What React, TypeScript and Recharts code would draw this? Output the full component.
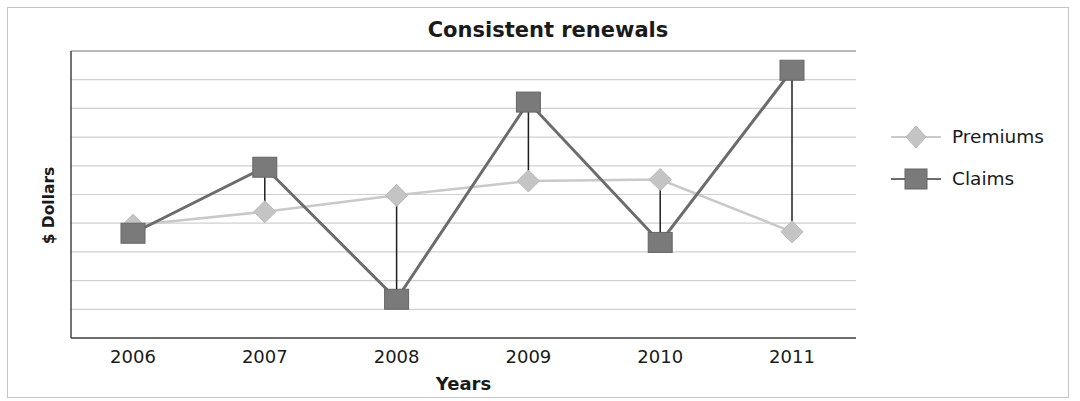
import React from 'react';
import { LineChart, Line, XAxis, YAxis, CartesianGrid, ErrorBar, ReferenceLine } from 'recharts';

const years = ['2006', '2007', '2008', '2009', '2010', '2011'];
const premiums = [3.93, 4.4, 4.97, 5.47, 5.52, 3.7];
const claims = [3.65, 5.95, 1.35, 8.22, 3.33, 9.33];
const yTicks = [0, 1, 2, 3, 4, 5, 6, 7, 8, 9, 10];
const gridValues = [1, 2, 3, 4, 5, 6, 7, 8, 9];
const seriesNames = ['Premiums', 'Claims'];
const titleText = 'Consistent renewals';
const xTitle = 'Years';
const yTitle = '$ Dollars';

const data = years.map((year, i) => ({
  year,
  premiums: premiums[i],
  claims: claims[i],
  drop: claims[i] >= premiums[i] ? [0, claims[i] - premiums[i]] : [premiums[i] - claims[i], 0],
}));

const FONT = '"DejaVu Sans", "Liberation Sans", Arial, sans-serif';
const PREM_LINE = '#c9c9c9';
const PREM_FILL = '#c4c4c4';
const CLAIM_LINE = '#6c6c6c';
const CLAIM_FILL = '#7a7a7a';

const Diamond = (p: any) => {
  const { cx, cy } = p;
  if (cx == null || cy == null) return <g key={`pd-${p.index}`} />;
  const h = 11;
  return (
    <polygon
      key={`pd-${p.index}`}
      points={`${cx},${cy - h} ${cx + h},${cy} ${cx},${cy + h} ${cx - h},${cy}`}
      fill={PREM_FILL}
      stroke="#b8b8b8"
      strokeWidth={1}
    />
  );
};

const Square = (p: any) => {
  const { cx, cy } = p;
  if (cx == null || cy == null) return <g key={`cs-${p.index}`} />;
  return (
    <rect
      key={`cs-${p.index}`}
      x={cx - 12}
      y={cy - 10}
      width={24}
      height={20}
      fill={CLAIM_FILL}
      stroke="#666666"
      strokeWidth={1}
    />
  );
};

const YLabel = (props: any) => {
  const vb = props.viewBox || { x: 11, y: 51, width: 60, height: 287 };
  const x = vb.x + 37.5;
  const y = vb.y + vb.height / 2 + 11;
  return (
    <text
      x={x}
      y={y}
      transform={`rotate(-90, ${x}, ${y})`}
      textAnchor="middle"
      dominantBaseline="central"
      fontFamily={FONT}
      fontWeight="bold"
      fontSize={15.5}
      fill="#1a1a1a"
    >
      {yTitle}
    </text>
  );
};

const XLabel = (props: any) => {
  const vb = props.viewBox || { x: 71, y: 338, width: 785, height: 60 };
  return (
    <text
      x={vb.x + vb.width / 2}
      y={vb.y + 45}
      textAnchor="middle"
      dominantBaseline="central"
      fontFamily={FONT}
      fontWeight="bold"
      fontSize={18}
      fill="#1a1a1a"
    >
      {xTitle}
    </text>
  );
};

const LegendIcon = ({ kind }: { kind: number }) => (
  <svg width={50} height={24} style={{ display: 'block' }}>
    <line x1={0} y1={12} x2={50} y2={12} stroke={kind === 0 ? PREM_LINE : CLAIM_LINE} strokeWidth={2} />
    {kind === 0 ? (
      <polygon points="25,1 35,12 25,23 15,12" fill={PREM_FILL} stroke="#b8b8b8" />
    ) : (
      <rect x={14} y={2} width={22} height={20} fill={CLAIM_FILL} stroke="#666" />
    )}
  </svg>
);

export default function App() {
  return (
    <div style={{ position: 'relative', width: 1080, height: 401, background: '#fff', fontFamily: FONT, overflow: 'hidden' }}>
      <style>{'body{margin:0;overflow:hidden;background:#fff}'}</style>
      <div
        style={{
          position: 'absolute',
          left: 7,
          top: 7,
          width: 1062,
          height: 391,
          border: '1px solid #c4c4c4',
          boxSizing: 'border-box',
        }}
      />
      <div
        style={{
          position: 'absolute',
          left: 348,
          top: 20,
          width: 400,
          textAlign: 'center',
          fontSize: 21,
          lineHeight: '21px',
          fontWeight: 'bold',
          color: '#1a1a1a',
          whiteSpace: 'nowrap',
        }}
      >
        {titleText}
      </div>
      <div style={{ position: 'absolute', left: 0, top: 0 }}>
        <LineChart width={1080} height={401} data={data} margin={{ top: 51, right: 224, bottom: 3, left: 11 }}>
          <CartesianGrid vertical={false} stroke="#d0d0d0" strokeWidth={1.2} />
          <XAxis
            dataKey="year"
            scale="point"
            padding={{ left: 62, right: 64 }}
            height={60}
            tickLine={false}
            tickMargin={6}
            axisLine={{ stroke: '#444', strokeWidth: 1.5 }}
            tick={{ fontFamily: FONT, fontSize: 18, fill: '#1a1a1a' }}
            label={<XLabel />}
          />
          <YAxis
            domain={[0, 10]}
            ticks={yTicks}
            allowDataOverflow
            tick={false}
            tickLine={false}
            width={60}
            axisLine={{ stroke: '#444', strokeWidth: 1.5 }}
            label={<YLabel />}
          />
          <YAxis
            yAxisId="r"
            orientation="right"
            domain={[0, 10]}
            ticks={yTicks}
            tick={false}
            tickLine={false}
            width={0}
            axisLine={{ stroke: '#555', strokeWidth: 1.5 }}
          />
          {gridValues.map((v) => (
            <ReferenceLine key={`g-${v}`} y={v} stroke="#d0d0d0" strokeWidth={1.2} />
          ))}
          <ReferenceLine y={10} stroke="#8c8c8c" strokeWidth={1.2} />
          <Line
            dataKey="premiums"
            name={seriesNames[0]}
            stroke={PREM_LINE}
            strokeWidth={2.5}
            dot={Diamond}
            activeDot={false}
            isAnimationActive={false}
          >
            <ErrorBar dataKey="drop" direction="y" width={0} stroke="#1e1e1e" strokeWidth={1.5} isAnimationActive={false} />
          </Line>
          <Line
            dataKey="claims"
            name={seriesNames[1]}
            stroke={CLAIM_LINE}
            strokeWidth={3}
            dot={Square}
            activeDot={false}
            isAnimationActive={false}
          />
        </LineChart>
      </div>
      {seriesNames.map((name, i) => (
        <div
          key={name}
          style={{
            position: 'absolute',
            left: 891,
            top: i === 0 ? 125 : 167,
            height: 24,
            display: 'flex',
            alignItems: 'center',
          }}
        >
          <LegendIcon kind={i} />
          <span style={{ marginLeft: 11, fontSize: 18.5, color: '#1a1a1a', lineHeight: '24px' }}>{name}</span>
        </div>
      ))}
    </div>
  );
}
